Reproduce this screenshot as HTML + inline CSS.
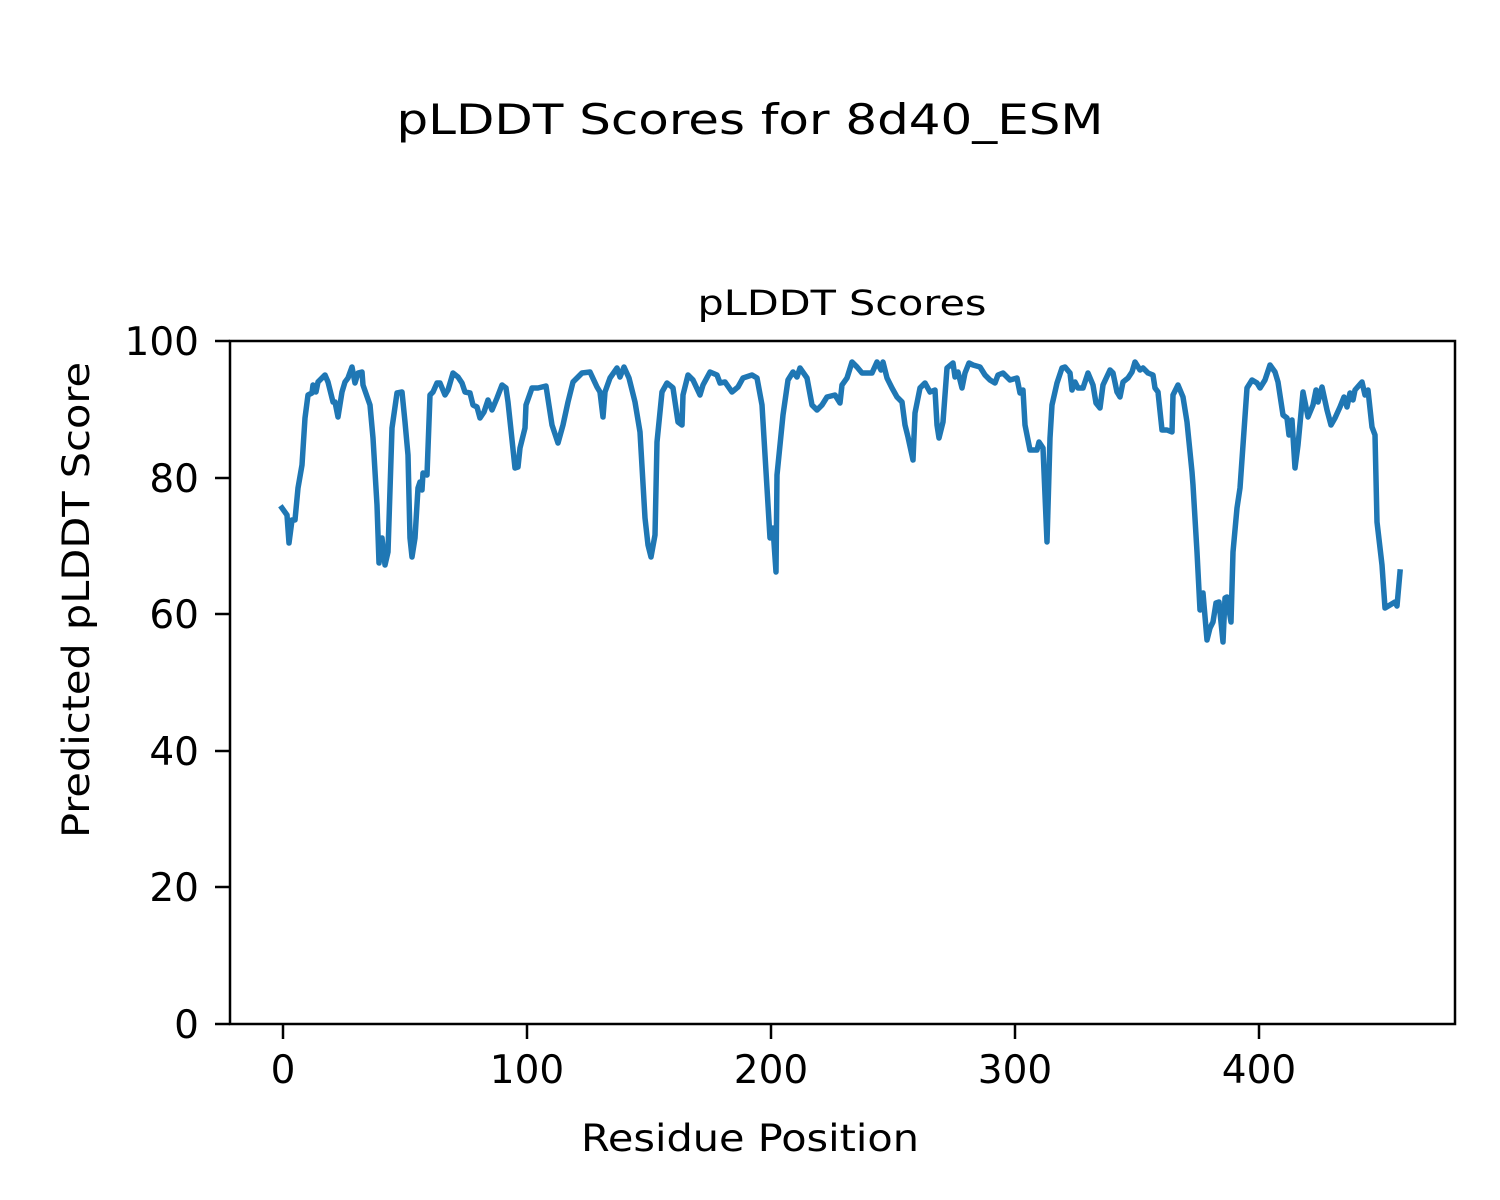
<!DOCTYPE html>
<html><head><meta charset="utf-8"><style>html,body{margin:0;padding:0;background:#fff}svg{display:block}text{font-family:"DejaVu Sans","Liberation Sans",sans-serif;fill:#000}</style></head>
<body>
<svg width="1500" height="1200" viewBox="0 0 1500 1200" xmlns="http://www.w3.org/2000/svg">
<rect width="1500" height="1200" fill="#fff"/>
<text x="750" y="134" font-size="42" text-anchor="middle" textLength="707" lengthAdjust="spacingAndGlyphs">pLDDT Scores for 8d40_ESM</text>
<text x="842" y="315" font-size="35" text-anchor="middle" textLength="289" lengthAdjust="spacingAndGlyphs">pLDDT Scores</text>
<polyline fill="none" stroke="#1f77b4" stroke-width="5.5" stroke-linejoin="round" stroke-linecap="square" points="282,508 287,515 289,543 292,520 295,520 298,488 302,465 305,418 308,395 312,393 313,385 316,392 318,382 325,375 328,382 333,402 335,402 338,417 342,392 345,382 348,378 352,367 355,383 358,373 362,372 363,385 370,405 373,438 377,505 379,563 382,538 385,565 388,552 392,428 397,393 402,392 405,422 408,455 410,538 412,557 415,538 418,488 420,482 422,490 423,473 427,475 430,395 433,392 437,383 440,383 445,395 448,390 453,373 458,377 462,383 465,392 470,393 473,405 477,407 480,418 484,412 488,400 492,410 497,398 502,385 506,388 508,402 515,468 518,467 520,448 525,428 526,405 532,388 538,388 546,386 552,425 558,443 563,425 568,402 573,382 578,377 582,373 590,372 597,387 600,392 603,417 605,392 610,378 617,368 620,377 624,367 629,378 635,402 640,432 645,518 648,545 651,557 655,535 657,442 662,392 667,383 672,387 673,388 678,422 682,425 683,395 688,375 693,380 700,395 703,385 710,372 717,375 720,383 725,382 732,392 738,387 743,378 752,375 757,378 762,405 767,488 770,538 773,528 776,572 777,475 783,415 788,380 793,372 797,377 800,368 807,378 812,405 817,410 822,405 827,397 835,395 840,403 842,385 847,378 852,362 857,367 862,373 867,373 872,373 877,362 881,370 883,362 887,378 892,388 897,397 902,402 905,425 908,437 913,460 915,413 920,388 925,383 930,392 935,390 937,425 939,438 943,422 947,368 953,363 955,377 958,372 962,388 965,373 969,363 973,365 980,367 985,375 990,380 995,383 998,375 1003,373 1010,380 1017,378 1020,393 1023,390 1025,425 1030,450 1037,450 1039,442 1043,448 1047,542 1050,438 1052,405 1057,383 1062,368 1065,367 1070,373 1072,390 1075,382 1078,388 1083,388 1088,373 1093,385 1096,403 1100,408 1103,385 1110,370 1113,373 1117,392 1120,397 1123,382 1128,378 1132,372 1135,362 1140,370 1143,368 1148,373 1153,375 1155,388 1158,392 1162,430 1167,430 1172,432 1173,395 1178,385 1183,397 1187,422 1192,472 1193,485 1197,552 1200,610 1203,593 1207,640 1210,628 1213,622 1216,603 1219,602 1223,642 1225,598 1227,597 1231,622 1233,552 1237,508 1240,488 1247,388 1252,380 1257,383 1260,388 1265,380 1270,365 1275,372 1278,382 1283,415 1287,418 1289,435 1292,420 1295,468 1298,445 1303,392 1308,417 1313,405 1316,390 1318,402 1322,387 1327,410 1331,425 1335,418 1340,407 1344,397 1347,407 1350,393 1353,400 1355,390 1362,382 1365,395 1368,390 1372,427 1375,435 1377,522 1382,565 1385,608 1390,605 1395,602 1397,606 1400,572"/>
<rect x="230" y="341" width="1225" height="683" fill="none" stroke="#000" stroke-width="2.5"/>
<g stroke="#000" stroke-width="2.5">
<line x1="215" y1="341" x2="230" y2="341"/><line x1="215" y1="478" x2="230" y2="478"/><line x1="215" y1="614" x2="230" y2="614"/><line x1="215" y1="751" x2="230" y2="751"/><line x1="215" y1="887" x2="230" y2="887"/><line x1="215" y1="1024" x2="230" y2="1024"/>
<line x1="283" y1="1024" x2="283" y2="1039"/><line x1="527" y1="1024" x2="527" y2="1039"/><line x1="771" y1="1024" x2="771" y2="1039"/><line x1="1015" y1="1024" x2="1015" y2="1039"/><line x1="1259" y1="1024" x2="1259" y2="1039"/>
</g>
<g font-size="39" text-anchor="end">
<text x="199" y="355">100</text><text x="199" y="492">80</text><text x="199" y="628">60</text><text x="199" y="765">40</text><text x="199" y="901">20</text><text x="199" y="1038">0</text>
</g>
<g font-size="39" text-anchor="middle">
<text x="283" y="1083">0</text><text x="527" y="1083">100</text><text x="771" y="1083">200</text><text x="1015" y="1083">300</text><text x="1259" y="1083">400</text>
</g>
<text x="750" y="1151" font-size="37" text-anchor="middle" textLength="338" lengthAdjust="spacingAndGlyphs">Residue Position</text>
<text transform="translate(89,600) rotate(-90)" font-size="37" text-anchor="middle" textLength="476" lengthAdjust="spacingAndGlyphs">Predicted pLDDT Score</text>
</svg>
</body></html>
